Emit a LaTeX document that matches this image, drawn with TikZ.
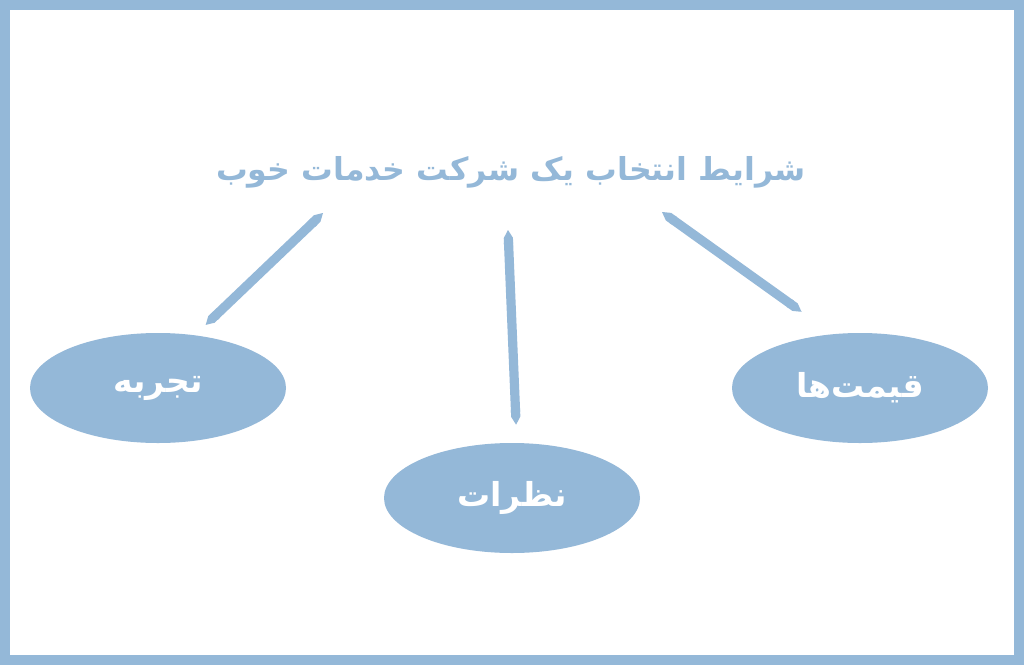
\documentclass[tikz,border=0pt]{standalone}
\usepackage{fontspec}
\usepackage{tikz}
\usetikzlibrary{shapes,arrows.meta,positioning}
\TeXXeTstate=1
\newfontfamily\arabicfont[Script=Arabic]{DejaVu Sans}
\definecolor{pale}{HTML}{94B8D8}
\tikzstyle{link} = [line width=4.6pt, pale, {Triangle Cap[cap angle=60]}-{Triangle Cap[cap angle=60]}]

\begin{document}
\begin{tikzpicture}[x=0.5pt,y=-0.5pt]
\tikzset{bubble/.style={ellipse,fill=pale,minimum width=128pt,minimum height=55pt,inner sep=0pt,text=white,font=\arabicfont\bfseries\fontsize{16.5}{20}\selectfont}}
\fill[pale] (0,0) rectangle (1024,665);
\fill[white] (10,10) rectangle (1014,655);

\node[text=pale,font=\arabicfont\bfseries\fontsize{15.8}{19}\selectfont] (title) at (511,172) {\beginR شرایط انتخاب یک شرکت خدمات خوب\endR};

\node[bubble] (tajrobe) at (158,388) {\beginR تجربه\endR};
\node[bubble] (nazarat) at (512,498) {\beginR نظرات\endR};
\node[bubble] (qeymat) at (860,388) {\beginR قیمت‌ها\endR};

\coordinate (l1) at (323,213);
\coordinate (m1) at (508,230);
\coordinate (r1) at (662,212);
\draw[link, shorten >=7.3pt] (l1) -- (tajrobe.55);
\draw[link, shorten >=9pt] (m1) -- (nazarat.85);
\draw[link, shorten >=19pt] (r1) -- (qeymat.117);
\end{tikzpicture}
\end{document}
